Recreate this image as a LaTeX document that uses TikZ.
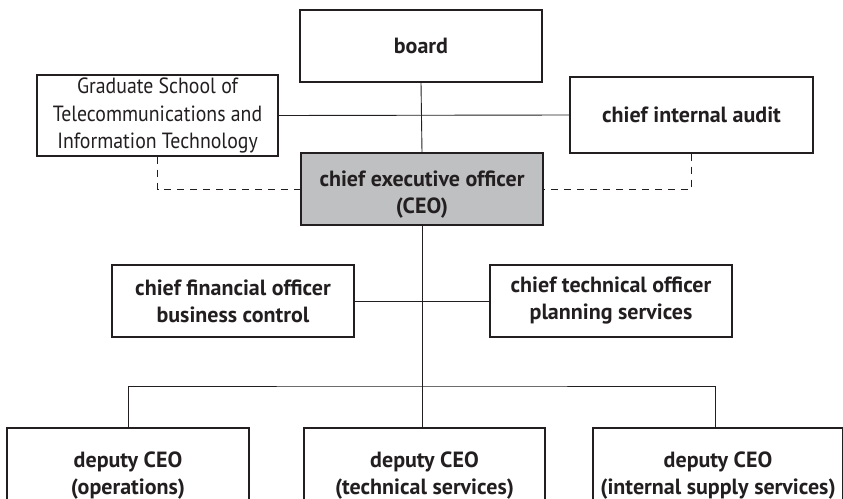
\documentclass[tikz,border=0pt]{standalone}
\usepackage{fontspec}
\setmainfont{PT Sans}
\newfontfamily\gradfont{PT Sans}[FakeStretch=0.9]
\definecolor{inkc}{RGB}{35,31,32}
\definecolor{ceofill}{RGB}{191,192,194}
\begin{document}
\begin{tikzpicture}[x=1pt,y=-1pt,
  box/.style={draw=inkc,line width=1.1pt,fill=white,inner sep=0pt,align=center,text=inkc,
    font=\fontsize{22}{27}\selectfont\bfseries},
  txt/.style={inner sep=0pt,align=center,text=inkc,font=\fontsize{22}{27}\selectfont\bfseries},
  conn/.style={draw=inkc,line width=0.9pt},
  dashconn/.style={conn,dash pattern=on 7pt off 6pt}]
\useasboundingbox (0,0) rectangle (843,498);
% nodes
\node[box,minimum width=242pt,minimum height=72pt] (board) at (421,46) {board};
\node[box,minimum width=241pt,minimum height=81pt,font=\fontsize{22}{27.5}\selectfont\gradfont] (grad) at (157.5,115.5)
  {Graduate School of\\Telecommunications and\\Information Technology};
\node[box,minimum width=243pt,minimum height=76pt] (audit) at (691.5,115) {chief internal audit};
\node[box,fill=ceofill,minimum width=242pt,minimum height=72pt] (ceo) at (422,189) {};
\node[txt] (ceotext) at ([yshift=-6pt]ceo.center) {chief executive officer\\(CEO)};
\node[box,minimum width=242pt,minimum height=72pt] (cfo) at (233,301) {chief financial officer\\business control};
\node[box,minimum width=242pt,minimum height=72pt] (cto) at (611,301) {chief technical officer\\planning services};
\node[box,minimum width=242pt,minimum height=96pt] (dep1) at (128,476) {deputy CEO\\(operations)};
\node[box,minimum width=241pt,minimum height=96pt] (dep2) at (424.5,476) {deputy CEO\\(technical services)};
\node[box,minimum width=250pt,minimum height=96pt] (dep3) at (718,476) {deputy CEO\\(internal supply services)};
\coordinate (bus) at (422,386);
\coordinate (drop3) at (715,428);
% connectors
\draw[conn] (board.south) -- (ceo.north);
\draw[conn] (grad.east) -- (audit.west);
\draw[dashconn] (grad.south) |- (ceo.west);
\draw[dashconn] (audit.south) |- (ceo.east);
\draw[conn] (ceo.south) -- (bus);
\draw[conn] (cfo.east) -- (cto.west);
\draw[conn] (bus) -- (dep2.north -| bus);
\draw[conn] (dep1.north) |- (bus) -| (drop3);
\end{tikzpicture}
\end{document}
